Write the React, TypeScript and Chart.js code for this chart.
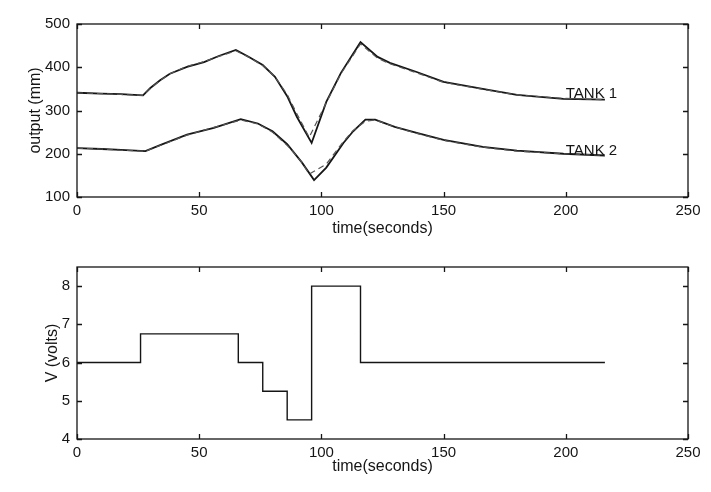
import React, { useEffect, useRef } from "react";
import { Chart, registerables } from "chart.js";

Chart.register(...registerables);

const FONT = '"Liberation Sans", Arial, Helvetica, sans-serif';
const INK = "#151515";

// Upper panel: tank levels (mm) over time (s)
const tank1Time = [0, 10, 18, 27, 30, 34, 38, 45, 52, 58, 65, 70, 76, 81, 86, 90, 96, 102, 108, 116, 123, 128, 139, 150, 166, 180, 199, 216];
const tank1Measured = [341, 339, 338, 335, 352, 370, 385, 401, 412, 426, 440, 425, 405, 378, 333, 285, 225, 320, 387, 458, 424, 410, 389, 366, 350, 336, 327, 325];
const tank1ModelTime = [0, 10, 18, 27, 30, 34, 38, 45, 52, 58, 65, 70, 76, 81, 86, 90, 95, 102, 108, 116, 123, 128, 139, 150, 166, 180, 199, 216];
const tank1Model = [341, 339, 337, 335, 351, 369, 385, 402, 413, 425, 438, 424, 404, 378, 337, 292, 238, 318, 385, 454, 421, 408, 387, 365, 349, 336, 328, 325];

const tank2Time = [0, 10, 18, 28, 34, 45, 56, 62, 67, 74, 80, 86, 92, 97, 102, 109, 113, 118, 122, 130, 139, 150, 166, 180, 199, 216];
const tank2Measured = [213, 211, 209, 206, 220, 244, 260, 271, 280, 270, 252, 222, 180, 139, 168, 225, 252, 279, 279, 262, 248, 232, 216, 207, 200, 196];
const tank2ModelTime = [0, 10, 18, 28, 34, 45, 56, 62, 67, 74, 80, 87, 92, 95, 102, 109, 113, 118, 122, 130, 139, 150, 166, 180, 199, 216];
const tank2Model = [213, 211, 208, 206, 219, 243, 261, 270, 278, 269, 250, 214, 180, 153, 176, 228, 254, 275, 278, 262, 247, 231, 215, 206, 200, 196];

const tankNames = ["TANK 1", "TANK 2"];

// Lower panel: pump voltage, each value held until the next switching time
const voltTime = [0, 26, 66, 76, 86, 96, 116, 216];
const voltValues = [6, 6.75, 6, 5.25, 4.5, 8, 6, 6];

const toPoints = (xs: number[], ys: number[]) => xs.map((x, i) => ({ x, y: ys[i] }));

// Boxed axes with inward tick marks on all four sides
const framePlugin = {
  id: "frame",
  afterDatasetsDraw(chart: any) {
    const { ctx, chartArea: a, scales } = chart;
    const L = 5;
    ctx.save();
    ctx.strokeStyle = INK;
    ctx.lineWidth = 1.3;
    ctx.strokeRect(a.left, a.top, a.right - a.left, a.bottom - a.top);
    ctx.beginPath();
    for (const t of scales.x.ticks) {
      const px = Math.round(scales.x.getPixelForValue(t.value)) + 0.5;
      ctx.moveTo(px, a.bottom);
      ctx.lineTo(px, a.bottom - L);
      ctx.moveTo(px, a.top);
      ctx.lineTo(px, a.top + L);
    }
    for (const t of scales.y.ticks) {
      const py = Math.round(scales.y.getPixelForValue(t.value)) + 0.5;
      ctx.moveTo(a.left, py);
      ctx.lineTo(a.left + L, py);
      ctx.moveTo(a.right, py);
      ctx.lineTo(a.right - L, py);
    }
    ctx.stroke();
    ctx.restore();
  },
};

// Tank names written at the end of each level curve
const tankLabelPlugin = {
  id: "tankLabels",
  afterDatasetsDraw(chart: any) {
    const { ctx, scales } = chart;
    const anchors = [
      [200, 329],
      [200, 197],
    ];
    ctx.save();
    ctx.fillStyle = INK;
    ctx.font = `15px ${FONT}`;
    ctx.textAlign = "left";
    ctx.textBaseline = "alphabetic";
    tankNames.forEach((name, i) => {
      const px = scales.x.getPixelForValue(anchors[i][0]);
      const py = scales.y.getPixelForValue(anchors[i][1]);
      ctx.fillText(name, px, py);
    });
    ctx.restore();
  },
};

const tickFont = { family: FONT, size: 15 };
const titleFont = { family: FONT, size: 16 };

function xAxis(height: number, titlePad: number) {
  return {
    type: "linear",
    min: 0,
    max: 250,
    grid: { display: false, drawTicks: false, tickLength: 0 },
    border: { display: false },
    ticks: { stepSize: 50, color: INK, font: tickFont, padding: 5, maxRotation: 0 },
    title: { display: true, text: "time(seconds)", color: INK, font: titleFont, padding: { top: 0, bottom: titlePad } },
    afterFit: (s: any) => {
      s.height = height;
    },
  };
}

function yAxis(min: number, max: number, step: number, text: string, titlePad: number) {
  return {
    type: "linear",
    min,
    max,
    grid: { display: false, drawTicks: false, tickLength: 0 },
    border: { display: false },
    ticks: { stepSize: step, color: INK, font: tickFont, padding: 7, includeBounds: false },
    title: { display: true, text, color: INK, font: titleFont, padding: { top: titlePad, bottom: 0 } },
    afterFit: (s: any) => {
      s.width = 77;
    },
  };
}

const solid = (label: string, data: any[]) => ({
  label,
  data,
  borderColor: INK,
  borderWidth: 1.8,
  pointRadius: 0,
  tension: 0,
  fill: false,
});

const dashed = (label: string, data: any[]) => ({
  label,
  data,
  borderColor: "#555",
  borderWidth: 1.2,
  borderDash: [6, 4],
  pointRadius: 0,
  tension: 0,
  fill: false,
});

const commonOptions = {
  responsive: false,
  animation: false,
  devicePixelRatio: 1,
  plugins: { legend: { display: false }, tooltip: { enabled: false } },
};

export default function App() {
  const topRef = useRef<HTMLCanvasElement>(null);
  const bottomRef = useRef<HTMLCanvasElement>(null);

  useEffect(() => {
    document.body.style.margin = "0";
    const top = new Chart(topRef.current!, {
      type: "line",
      data: {
        datasets: [
          dashed("Tank 1 model", toPoints(tank1ModelTime, tank1Model)),
          dashed("Tank 2 model", toPoints(tank2ModelTime, tank2Model)),
          solid("Tank 1", toPoints(tank1Time, tank1Measured)),
          solid("Tank 2", toPoints(tank2Time, tank2Measured)),
        ],
      },
      options: {
        ...commonOptions,
        layout: { padding: { top: 24, right: 23, left: 0, bottom: 0 } },
        scales: {
          x: xAxis(48, 7),
          y: yAxis(100, 500, 100, "output (mm)", 26),
        },
      } as any,
      plugins: [framePlugin, tankLabelPlugin],
    });

    const bottom = new Chart(bottomRef.current!, {
      type: "line",
      data: {
        datasets: [
          {
            label: "V",
            data: toPoints(voltTime, voltValues),
            borderColor: INK,
            borderWidth: 1.4,
            pointRadius: 0,
            stepped: "before",
            fill: false,
          },
        ],
      },
      options: {
        ...commonOptions,
        layout: { padding: { top: 22, right: 23, left: 0, bottom: 0 } },
        scales: {
          x: xAxis(53, 16),
          y: yAxis(4, 8.5, 1, "V (volts)", 43),
        },
      } as any,
      plugins: [framePlugin],
    });

    return () => {
      top.destroy();
      bottom.destroy();
    };
  }, []);

  return (
    <div style={{ position: "absolute", left: 0, top: 0, width: 711, height: 492, background: "#fff" }}>
      <canvas ref={topRef} width={711} height={245} style={{ position: "absolute", left: 0, top: 0 }} />
      <canvas ref={bottomRef} width={711} height={247} style={{ position: "absolute", left: 0, top: 245 }} />
    </div>
  );
}
